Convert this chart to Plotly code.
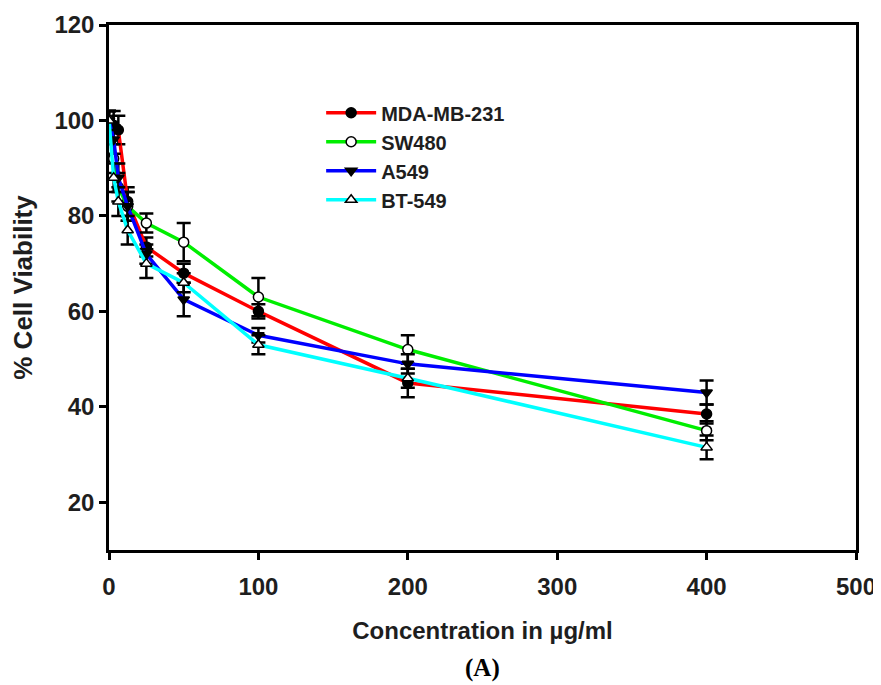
import plotly.graph_objects as go

conc = [0, 3.125, 6.25, 12.5, 25, 50, 100, 200, 400]

series_names = ["MDA-MB-231", "SW480", "A549", "BT-549"]
mda = [100, 99, 98, 83, 73.5, 68, 60, 45, 38.5]
mda_err = [2, 3, 3, 3, 2, 2, 1.5, 3, 2]
sw480 = [100, 92, 86, 82, 78.5, 74.5, 63, 52, 35]
sw480_err = [2, 3, 3, 3, 2, 4, 4, 3, 2]
a549 = [100, 96, 88, 82, 72, 62.5, 55, 49, 43]
a549_err = [2, 3, 3, 3, 2, 3.5, 1.5, 2, 2.5]
bt549 = [100, 88, 83, 77, 70, 66, 53, 46, 31.5]
bt549_err = [2, 3, 3, 3, 3, 2, 2, 2, 2.5]

line_colors = ["#ff0000", "#00ee00", "#0000ff", "#00ffff"]
symbols = ["circle", "circle", "triangle-down", "triangle-up"]
fills = ["black", "white", "black", "white"]

FONT = "Liberation Sans, Arial, sans-serif"
TXT = "#1e1e1e"

fig = go.Figure()
for name, ys, errs, col, sym, fc in zip(
    series_names, [mda, sw480, a549, bt549],
    [mda_err, sw480_err, a549_err, bt549_err],
    line_colors, symbols, fills):
    fig.add_trace(go.Scatter(
        x=conc, y=ys, name=name, mode="lines+markers",
        line=dict(color=col, width=3.5),
        marker=dict(symbol=sym, size=10, color=fc, line=dict(color="black", width=1.5)),
        error_y=dict(type="data", array=errs, visible=True, color="black", thickness=2.5, width=7),
    ))

fig.update_layout(
    width=873, height=677,
    margin=dict(l=101, r=25, t=17, b=135, autoexpand=False),
    paper_bgcolor="white", plot_bgcolor="white",
    font=dict(family=FONT, size=20, color=TXT, weight="bold"),
    showlegend=True,
    legend=dict(x=0.284, y=0.870, xanchor="left", yanchor="top",
                bgcolor="rgba(0,0,0,0)", font=dict(size=20, family=FONT, weight="bold", color=TXT),
                tracegroupgap=0, itemwidth=50),
    xaxis=dict(range=[0, 500], tickvals=[0, 100, 200, 300, 400, 500],
               showgrid=False, zeroline=False, showline=True, linecolor="black", linewidth=2.5,
               mirror=True, ticks="outside", ticklen=7, tickwidth=2.5, tickcolor="black",
               ticklabelstandoff=6,
               tickfont=dict(size=24, family=FONT, weight="bold", color=TXT),
               title=dict(text="Concentration in µg/ml", font=dict(size=24, family=FONT, weight="bold", color=TXT), standoff=24)),
    yaxis=dict(range=[10, 120], tickvals=[20, 40, 60, 80, 100, 120],
               showgrid=False, zeroline=False, showline=True, linecolor="black", linewidth=2.5,
               mirror=True, ticks="outside", ticklen=7, tickwidth=2.5, tickcolor="black",
               tickfont=dict(size=24, family=FONT, weight="bold", color=TXT),
               title=dict(text="% Cell Viability", font=dict(size=26, family=FONT, weight="bold", color=TXT), standoff=16)),
    annotations=[dict(text="(A)", x=0.5, y=-0.2248, xref="paper", yref="paper",
                      xanchor="center", yanchor="middle", showarrow=False,
                      font=dict(family="Liberation Serif, Times New Roman, serif", size=25, color="black", weight="bold"))],
)

fig.write_html("out.html")
